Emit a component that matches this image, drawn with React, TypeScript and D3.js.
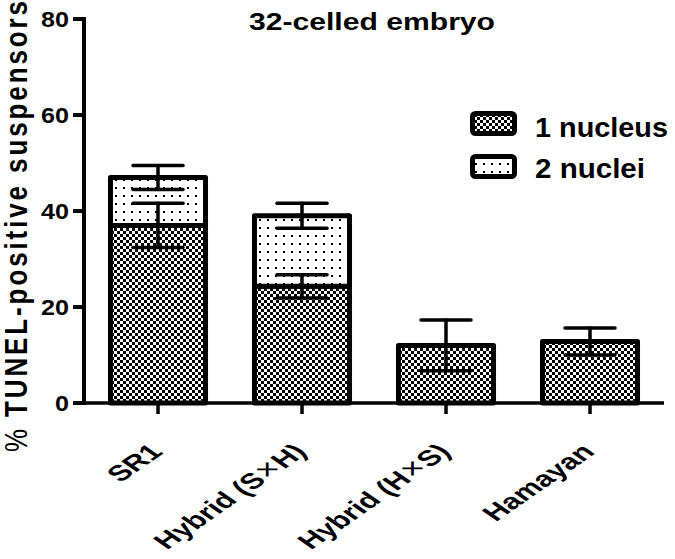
import React from "react";
import * as d3 from "d3";

const categories = ["SR1", "Hybrid (S×H)", "Hybrid (H×S)", "Hamayan"];
const oneNucleus = [37, 24.3, 12, 12.8];
const oneNucleusErr = [4.6, 2.4, 5.3, 2.8];
const twoNuclei = [10, 14.7, 0, 0];
const totalErr = [2.5, 2.6, 0, 0];
const yTicks = [0, 20, 40, 60, 80];
const legendLabels = ["1 nucleus", "2 nuclei"];
const titleText = "32-celled embryo";
const yLabel = "TUNEL-positive suspensors";

const FONT = "'Liberation Sans', Arial, Helvetica, sans-serif";

export default function App() {
  const W = 675;
  const H = 559;
  const x = d3
    .scaleBand<string>()
    .domain(categories)
    .range([86, 662])
    .paddingInner(0.34)
    .paddingOuter(0.17);
  const y = d3.scaleLinear().domain([0, 80]).range([403, 19]);
  const bw = x.bandwidth();
  const capW = 50;
  const stretch = 1.45;

  const errBar = (cx: number, v: number, e: number, key: string) => (
    <g key={key} stroke="#000" strokeWidth={3.5} strokeLinecap="round">
      <line x1={cx} x2={cx} y1={y(v + e)} y2={y(v - e)} />
      <line x1={cx - capW / 2} x2={cx + capW / 2} y1={y(v + e)} y2={y(v + e)} />
      <line x1={cx - capW / 2} x2={cx + capW / 2} y1={y(v - e)} y2={y(v - e)} />
    </g>
  );

  const renderLabel = (s: string) => {
    const parts = s.split("×");
    if (parts.length === 1) return s;
    return (
      <>
        {parts[0]}
        <tspan fontWeight="normal" fontSize={25} dx={1}>×</tspan>
        <tspan dx={1}>{parts[1]}</tspan>
      </>
    );
  };

  return (
    <svg
      width={W}
      height={H}
      style={{ position: "absolute", left: 0, top: 0, background: "#fff" }}
      fontFamily={FONT}
    >
      <defs>
        <pattern id="checker" patternUnits="userSpaceOnUse" width={6} height={6}>
          <rect width={6} height={6} fill="#fff" />
          <rect x={0} y={0} width={3} height={3} fill="#000" />
          <rect x={3} y={3} width={3} height={3} fill="#000" />
        </pattern>
        <pattern id="dots" patternUnits="userSpaceOnUse" width={8} height={8}>
          <rect width={8} height={8} fill="#fff" />
          <rect x={3} y={3} width={2} height={2} fill="#000" />
        </pattern>
      </defs>

      {/* bars */}
      {categories.map((c, i) => {
        const x0 = x(c)!;
        const base = y(0);
        const top1 = y(oneNucleus[i]);
        const top2 = y(oneNucleus[i] + twoNuclei[i]);
        return (
          <g key={c} stroke="#000" strokeWidth={5} strokeLinejoin="round">
            <rect x={x0} y={top1} width={bw} height={base - top1} fill="url(#checker)" />
            {twoNuclei[i] > 0 && (
              <rect x={x0} y={top2} width={bw} height={top1 - top2} fill="url(#dots)" />
            )}
          </g>
        );
      })}

      {/* error bars */}
      {categories.map((c, i) => {
        const cx = x(c)! + bw / 2;
        return (
          <g key={c + "e"}>
            {errBar(cx, oneNucleus[i], oneNucleusErr[i], "a")}
            {twoNuclei[i] > 0 && errBar(cx, oneNucleus[i] + twoNuclei[i], totalErr[i], "b")}
          </g>
        );
      })}

      {/* y axis */}
      <g stroke="#000" strokeWidth={4}>
        <line x1={84} x2={84} y1={y(80) - 2} y2={y(0) + 2} />
        {yTicks.map((t) => (
          <line key={t} x1={73} x2={84} y1={y(t)} y2={y(t)} />
        ))}
      </g>
      {yTicks.map((t) => (
        <text
          key={"l" + t}
          x={69}
          y={y(t) + 8}
          textAnchor="end"
          fontWeight="bold"
          fontSize={22}
          transform={`translate(69,0) scale(1.14,1) translate(-69,0)`}
        >
          {t}
        </text>
      ))}

      {/* x axis */}
      <g stroke="#000" strokeWidth={3.5}>
        <line x1={82} x2={664} y1={y(0)} y2={y(0)} />
        {categories.map((c) => {
          const cx = x(c)! + bw / 2;
          return <line key={c} x1={cx} x2={cx} y1={y(0)} y2={y(0) + 11} />;
        })}
      </g>
      {categories.map((c) => {
        const cx = x(c)! + bw / 2;
        return (
          <text
            key={"xl" + c}
            transform={`translate(${cx + 6},${453}) scale(${stretch},1) rotate(-45)`}
            textAnchor="end"
            fontWeight="bold"
            fontSize={22}
          >
            {renderLabel(c)}
          </text>
        );
      })}

      {/* title */}
      <text
        x={249}
        y={30}
        fontWeight="bold"
        fontSize={23}
        textLength={246}
        lengthAdjust="spacingAndGlyphs"
      >
        {titleText}
      </text>

      {/* y label */}
      <g transform={`translate(27,452) scale(1.18,1) rotate(-90)`}>
        <text x={0} y={0} fontSize={26}>%</text>
        <text
          x={35}
          y={0}
          fontWeight="bold"
          fontSize={26}
          textLength={416}
          lengthAdjust="spacing"
        >
          {yLabel}
        </text>
      </g>

      {/* legend */}
      {legendLabels.map((l, i) => {
        const by = 113.5 + i * 43;
        return (
          <g key={l}>
            <rect
              x={472.5}
              y={by}
              width={42}
              height={20}
              rx={3}
              fill={i === 0 ? "url(#checker)" : "url(#dots)"}
              stroke="#000"
              strokeWidth={5}
            />
            <text
              x={535}
              y={137 + i * 41}
              fontWeight="bold"
              fontSize={27}
              textLength={i === 0 ? 133 : 110}
              lengthAdjust="spacingAndGlyphs"
            >
              {l}
            </text>
          </g>
        );
      })}
    </svg>
  );
}
